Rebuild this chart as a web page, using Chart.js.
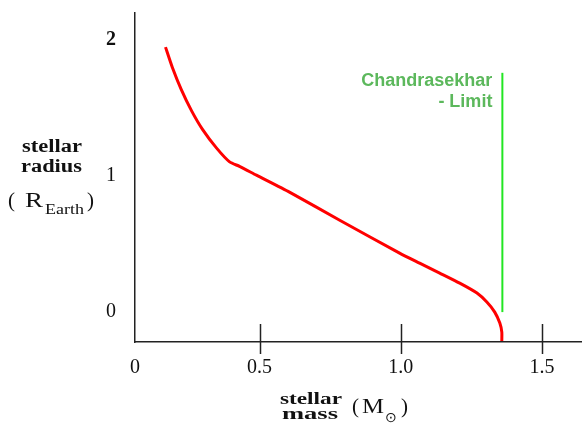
<!DOCTYPE html>
<html>
<head>
<meta charset="utf-8">
<style>
  html, body { margin: 0; padding: 0; background: #ffffff; }
  #wrap { width: 582px; height: 425px; }
</style>
<script src="https://cdn.jsdelivr.net/npm/chart.js@4/dist/chart.umd.min.js"></script>
</head>
<body>
<div id="wrap"><canvas id="massRadius" width="582" height="425"></canvas></div>
<script>
// white dwarf mass-radius relation
const massValues = [0.167, 0.191, 0.223, 0.259, 0.298, 0.348, 0.394, 0.429, 0.489, 0.606,
  0.784, 0.996, 1.067, 1.138, 1.209, 1.270, 1.305, 1.333, 1.351, 1.358, 1.358];
const radiusValues = [1.949, 1.801, 1.636, 1.482, 1.344, 1.206, 1.105, 1.072, 1.007, 0.882,
  0.676, 0.434, 0.360, 0.287, 0.213, 0.140, 0.074, 0.000, -0.081, -0.147, -0.213];

const limitMass = [1.36, 1.36];
const limitRadius = [0, 1.76];
const limitLabel = ["Chandrasekhar", "- Limit"];

const xTickValues = [0.059, 0.5, 1.0, 1.5];
const xTickLabels = ["0", "0.5", "1.0", "1.5"];
const xMarkValues = [0.5, 1.0, 1.5];
const yTickValues = [0, 1, 2];
const yTickLabels = ["0", "1", "2"];

const serif = "\"Liberation Serif\", \"Times New Roman\", serif";
const sans = "\"Liberation Sans\", Arial, sans-serif";

function fitText(ctx, text, x, y, width) {
  const w = ctx.measureText(text).width;
  ctx.save();
  ctx.translate(x, y);
  ctx.scale(width / w, 1);
  ctx.fillText(text, 0, 0);
  ctx.restore();
}

const decorations = {
  id: "decorations",
  afterDraw(chart) {
    const ctx = chart.ctx;
    const xs = chart.scales.x;
    const ys = chart.scales.y;
    const axisY = chart.chartArea.bottom;

    // tick marks crossing the mass axis
    ctx.save();
    ctx.strokeStyle = "#222222";
    ctx.lineWidth = 1.5;
    xMarkValues.forEach((v) => {
      const px = Math.round(xs.getPixelForValue(v)) + 0.5;
      ctx.beginPath();
      ctx.moveTo(px, axisY - 18);
      ctx.lineTo(px, axisY + 12);
      ctx.stroke();
    });
    ctx.restore();

    // Chandrasekhar limit label
    ctx.save();
    ctx.fillStyle = "#5cb85c";
    ctx.font = "bold 18px " + sans;
    ctx.textAlign = "right";
    ctx.textBaseline = "alphabetic";
    const lx = xs.getPixelForValue(limitMass[0]) - 10;
    const ly = ys.getPixelForValue(limitRadius[1]);
    ctx.fillText(limitLabel[0], lx, ly + 13);
    ctx.fillText(limitLabel[1], lx, ly + 34);
    ctx.restore();

    // axis titles
    ctx.save();
    ctx.fillStyle = "#111111";
    ctx.textBaseline = "alphabetic";
    ctx.textAlign = "left";
    ctx.font = "bold 18px " + serif;
    fitText(ctx, "stellar", 22, 152, 60);
    fitText(ctx, "radius", 21, 172, 61);
    ctx.font = "bold 16px " + serif;
    fitText(ctx, "stellar", 280, 404, 62);
    fitText(ctx, "mass", 282, 419, 56);

    ctx.font = "20px " + serif;
    fitText(ctx, "(", 8, 207, 7);
    fitText(ctx, "R", 25, 207, 18);
    fitText(ctx, ")", 87, 207, 7);
    ctx.font = "15px " + serif;
    fitText(ctx, "Earth", 45, 214, 39);

    ctx.font = "20px " + serif;
    fitText(ctx, "(", 352, 413, 7);
    fitText(ctx, "M", 362, 413, 22);
    fitText(ctx, ")", 401, 413, 7);
    ctx.font = "14px " + serif;
    ctx.fillText("\u2299", 385, 422);
    ctx.restore();
  }
};

new Chart(document.getElementById("massRadius"), {
  type: "scatter",
  data: {
    datasets: [
      {
        label: "radius",
        data: massValues.map((m, i) => ({ x: m, y: radiusValues[i] })),
        showLine: true,
        borderColor: "#ff0000",
        borderWidth: 3,
        pointRadius: 0,
        tension: 0.2,
        fill: false
      },
      {
        label: "limit",
        data: limitMass.map((m, i) => ({ x: m, y: limitRadius[i] })),
        showLine: true,
        borderColor: "#22e622",
        borderWidth: 2,
        pointRadius: 0,
        fill: false
      }
    ]
  },
  options: {
    responsive: false,
    animation: false,
    devicePixelRatio: 1,
    layout: { padding: { top: 13, right: 0, left: 0, bottom: 0 } },
    plugins: {
      legend: { display: false },
      tooltip: { enabled: false }
    },
    scales: {
      x: {
        type: "linear",
        min: 0.059,
        max: 1.642,
        afterBuildTicks(scale) {
          scale.ticks = xTickValues.map((v) => ({ value: v }));
        },
        afterFit(scale) {
          scale.height = 83;
          scale.paddingLeft = 0;
          scale.paddingRight = 0;
        },
        grid: { display: false, drawTicks: false },
        border: { display: true, color: "#222222", width: 1.5 },
        ticks: {
          color: "#111111",
          padding: 14,
          maxRotation: 0,
          autoSkip: false,
          font: { family: serif, size: 20 },
          callback(value, index) {
            return xTickLabels[index];
          }
        }
      },
      y: {
        type: "linear",
        min: -0.22,
        max: 2.2,
        afterBuildTicks(scale) {
          scale.ticks = yTickValues.map((v) => ({ value: v }));
        },
        afterFit(scale) {
          scale.width = 135;
          scale.paddingTop = 0;
          scale.paddingBottom = 0;
        },
        grid: { display: false, drawTicks: false },
        border: { display: true, color: "#222222", width: 1.5 },
        ticks: {
          color: "#111111",
          padding: 19,
          autoSkip: false,
          font(ctx) {
            return { family: serif, size: 20, weight: ctx.index === 2 ? "bold" : "normal" };
          },
          callback(value, index) {
            return yTickLabels[index];
          }
        }
      }
    }
  },
  plugins: [decorations]
});
</script>
</body>
</html>
